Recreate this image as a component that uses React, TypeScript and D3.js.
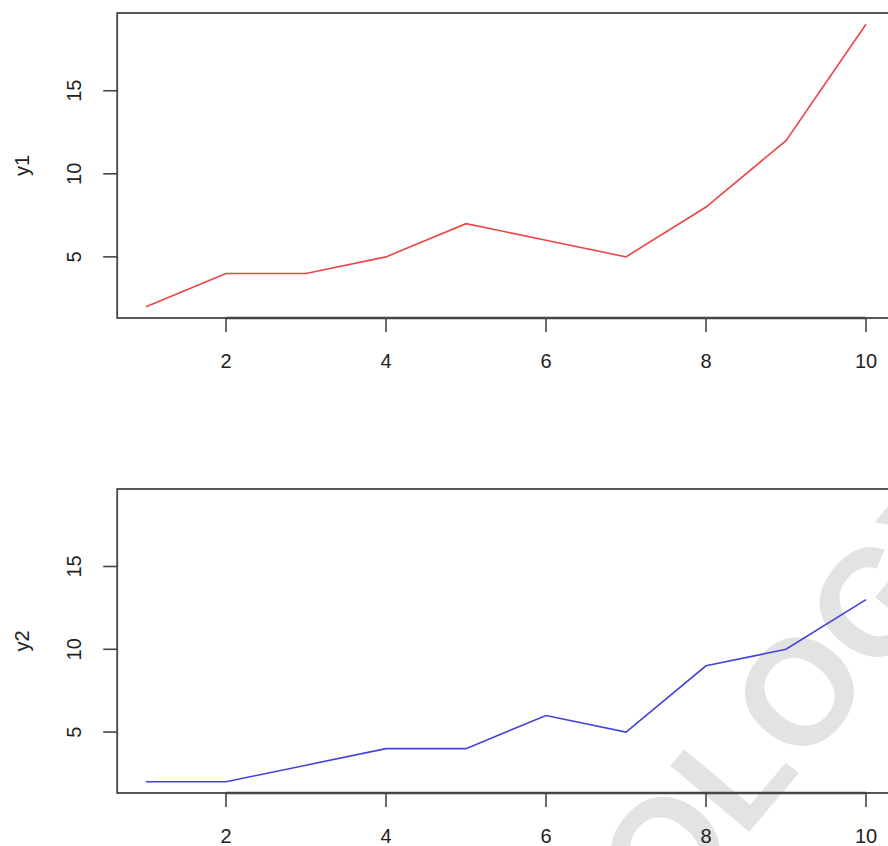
import React from "react";
import * as d3 from "d3";

const xs = [1, 2, 3, 4, 5, 6, 7, 8, 9, 10];
const y1 = [2, 4, 4, 5, 7, 6, 5, 8, 12, 19];
const y2 = [2, 2, 3, 4, 4, 6, 5, 9, 10, 13];
const xTicks = [2, 4, 6, 8, 10];
const yTicks = [5, 10, 15];
const panelLabels = ["y1", "y2"];
const panelColors = ["#ec4545", "#4242dc"];
const watermark = "TECHNOLOGY";

const W = 888;
const H = 846;
const FONT = "'Liberation Sans', Arial, Helvetica, sans-serif";
const AXIS = "#454545";

function Panel({ top, bottom, values, label, color }: { top: number; bottom: number; values: number[]; label: string; color: string }) {
  const yMin = d3.min([...y1, ...y2]) as number;
  const yMax = d3.max([...y1, ...y2]) as number;
  const yPad = (yMax - yMin) * 0.04;
  const xPad = (10 - 1) * 0.04;
  const x = d3.scaleLinear().domain([1 - xPad, 10 + xPad]).range([117.2, 894.8]);
  const y = d3.scaleLinear().domain([yMin - yPad, yMax + yPad]).range([bottom, top]);
  const line = d3.line<number>().x((_, i) => x(xs[i])).y((d) => y(d));
  const left = x.range()[0];
  const right = x.range()[1];
  const tick = 14;
  return (
    <g>
      <path d={line(values) || ""} fill="none" stroke={color} strokeWidth={1.6} />
      <rect x={left} y={top} width={right - left} height={bottom - top} fill="none" stroke={AXIS} strokeWidth={1.8} />
      <line x1={x(xTicks[0])} x2={x(xTicks[xTicks.length - 1])} y1={bottom} y2={bottom} stroke={AXIS} strokeWidth={2.4} />
      {xTicks.map((t) => (
        <g key={"x" + t}>
          <line x1={x(t)} x2={x(t)} y1={bottom} y2={bottom + tick} stroke={AXIS} strokeWidth={1.6} />
          <text x={x(t)} y={bottom + 43} textAnchor="middle" dominantBaseline="central" fontSize={20} fill="#222" fontFamily={FONT}>
            {t}
          </text>
        </g>
      ))}
      {yTicks.map((t) => (
        <g key={"y" + t}>
          <line x1={left - tick} x2={left} y1={y(t)} y2={y(t)} stroke={AXIS} strokeWidth={1.6} />
          <text
            transform={`translate(${left - 43},${y(t)}) rotate(-90)`}
            textAnchor="middle"
            dominantBaseline="central"
            fontSize={20}
            fill="#222"
            fontFamily={FONT}
          >
            {t}
          </text>
        </g>
      ))}
      <text
        transform={`translate(22,${(top + bottom) / 2}) rotate(-90)`}
        textAnchor="middle"
        dominantBaseline="central"
        fontSize={20}
        fill="#222"
        fontFamily={FONT}
      >
        {label}
      </text>
    </g>
  );
}

export default function App() {
  return (
    <div style={{ position: "fixed", left: 0, top: 0, width: W, height: H, background: "#fff" }}>
      <svg width={W} height={H} viewBox={`0 0 ${W} ${H}`} style={{ display: "block" }}>
        <rect x={0} y={0} width={W} height={H} fill="#fff" />
        <text
          transform="translate(636,886) rotate(-50)"
          textAnchor="middle"
          dominantBaseline="central"
          fontSize={150}
          fontWeight="bold"
          fill="#000"
          fillOpacity={0.11}
          fontFamily={FONT}
        >
          {watermark}
        </text>
        <Panel top={13} bottom={318} values={y1} label={panelLabels[0]} color={panelColors[0]} />
        <Panel top={489} bottom={793} values={y2} label={panelLabels[1]} color={panelColors[1]} />
      </svg>
    </div>
  );
}
